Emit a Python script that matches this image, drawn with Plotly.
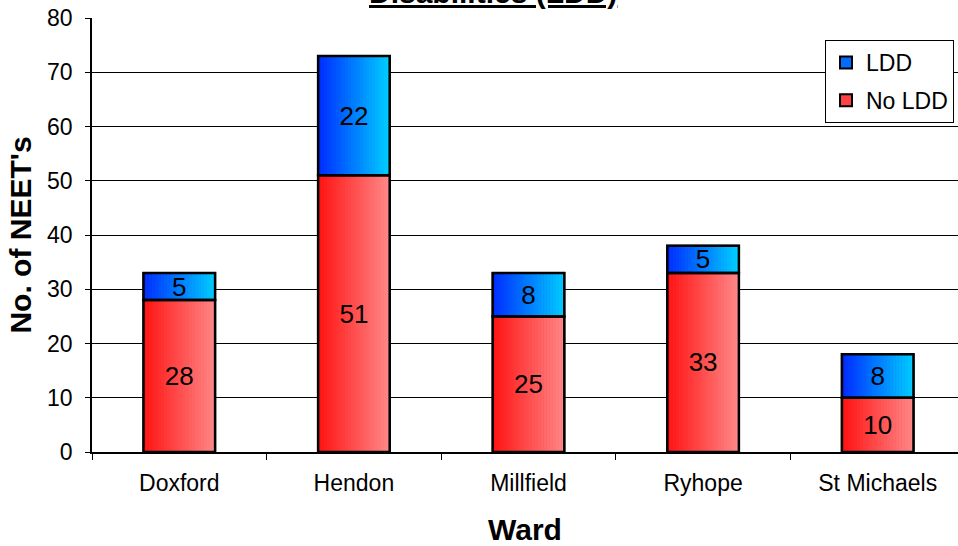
import plotly.graph_objects as go

wards = ["Doxford", "Hendon", "Millfield", "Ryhope", "St Michaels"]
no_ldd = [28, 51, 25, 33, 10]
ldd = [5, 22, 8, 5, 8]
y_ticks = [0, 10, 20, 30, 40, 50, 60, 70, 80]

FONT = "Liberation Sans, Arial, sans-serif"
W = 0.41
N = 24

def lerp(c1, c2, t):
    return "rgb(%d,%d,%d)" % tuple(round(a + (b - a) * t) for a, b in zip(c1, c2))

series = [
    ("No LDD", no_ldd, [0] * len(no_ldd), (255, 20, 20), (255, 135, 135)),
    ("LDD", ldd, no_ldd, (0, 45, 255), (0, 205, 255)),
]

fig = go.Figure()

# legend entries (drawn underneath, hidden by the gradient strips)
for k, (name, vals, base, c1, c2) in enumerate(series):
    fig.add_trace(go.Bar(
        x=wards, y=vals, base=base, width=W, name=name,
        marker=dict(color=lerp(c1, c2, 0.4), line=dict(color="black", width=2)),
        hoverinfo="skip", legendrank=2 if name == "No LDD" else 1,
        legendgroup="g%d" % k,
    ))

# horizontal gradient strips
for name, vals, base, c1, c2 in series:
    for i in range(N):
        t = i / (N - 1)
        fig.add_trace(go.Bar(
            x=wards, y=vals, base=base,
            width=W / N * 1.08, offset=-W / 2 + i * W / N,
            marker=dict(color=lerp(c1, c2, t), line=dict(width=0)),
            showlegend=False, hoverinfo="skip",
        ))

# outlines and value labels
for name, vals, base, c1, c2 in series:
    fig.add_trace(go.Bar(
        x=wards, y=vals, base=base, width=W,
        marker=dict(color="rgba(0,0,0,0)", line=dict(color="black", width=2.5)),
        text=[str(v) for v in vals], textposition="inside",
        insidetextanchor="middle", textangle=0, constraintext="none",
        textfont=dict(family=FONT, size=26, color="black"),
        showlegend=False, hoverinfo="skip",
    ))

fig.update_layout(
    width=958, height=546,
    barmode="overlay",
    plot_bgcolor="white", paper_bgcolor="white",
    margin=dict(l=92, r=0, t=18, b=94, autoexpand=False),
    font=dict(family=FONT, color="black"),
    showlegend=True,
    legend=dict(
        x=(825 - 92) / 866, y=1 - (40 - 18) / 434, xanchor="left", yanchor="top",
        bgcolor="white", bordercolor="black", borderwidth=1,
        font=dict(family=FONT, size=23, color="black"),
        traceorder="grouped", tracegroupgap=5,
    ),
    xaxis=dict(
        range=[-0.5, -0.5 + 866 / 174.6],
        showline=True, linecolor="black", linewidth=1.5,
        ticks="outside", ticklen=6, tickcolor="black", tickson="boundaries",
        showgrid=False, ticklabelstandoff=10,
        tickfont=dict(family=FONT, size=23, color="black"),
        title=dict(text="<b>Ward</b>", font=dict(family=FONT, size=30, color="black"), standoff=25),
    ),
    yaxis=dict(
        range=[0, 80], tickvals=y_ticks,
        showline=True, linecolor="black", linewidth=1.5,
        ticks="outside", ticklen=5, tickcolor="black",
        showgrid=True, gridcolor="black", gridwidth=1,
        ticklabelstandoff=8,
        tickfont=dict(family=FONT, size=23, color="black"),
        title=dict(text="<b>No. of NEET's</b>", font=dict(family=FONT, size=30, color="black"), standoff=7),
        zeroline=False,
    ),
    annotations=[dict(
        text="<b><u>Disabilities (LDD)</u></b>", xref="paper", yref="paper",
        x=(493 - 92) / 866, y=1 + (18 - 11) / 434, xanchor="center", yanchor="bottom",
        showarrow=False, font=dict(family=FONT, size=30, color="black"),
    )],
)

fig.write_html(
    "out.html",
    config={"displayModeBar": False},
    post_script="document.body.style.margin='0';document.body.style.overflow='hidden';",
)
